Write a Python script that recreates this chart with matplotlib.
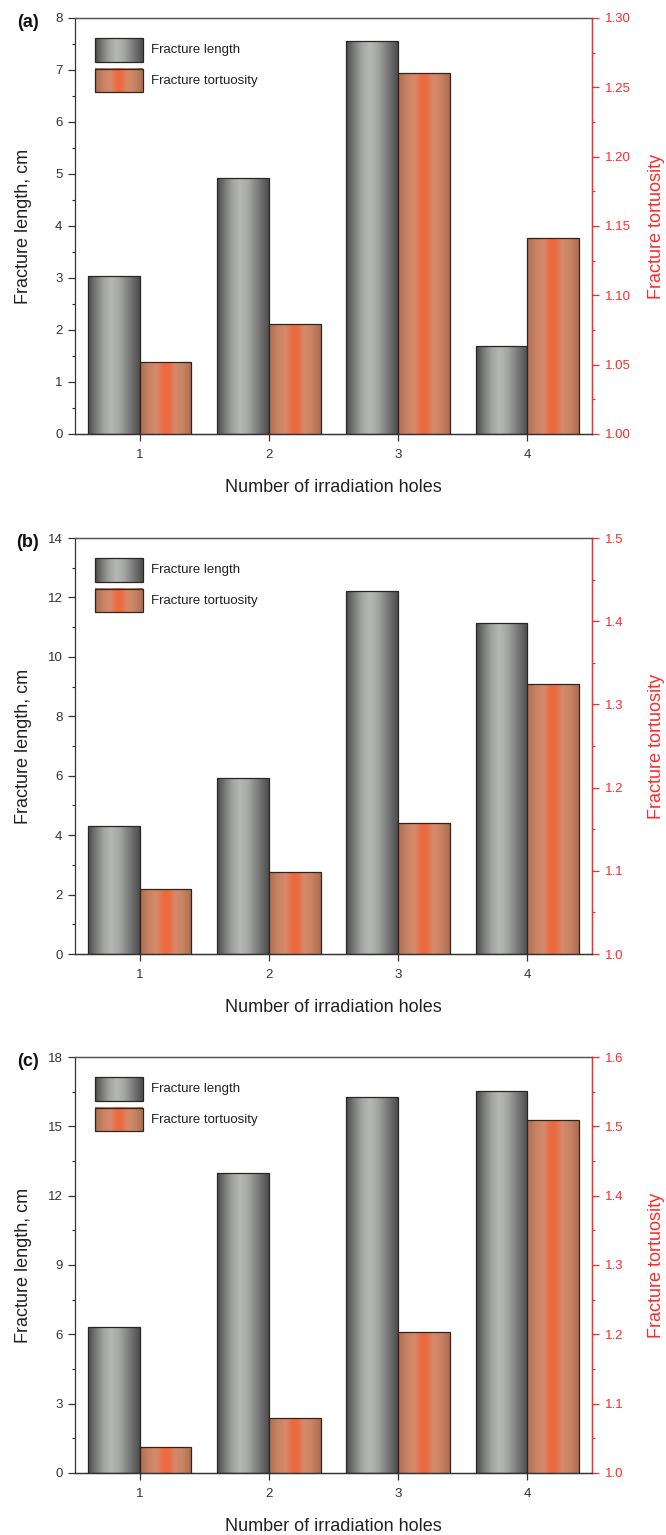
import numpy as np
import matplotlib
matplotlib.use("Agg")
import matplotlib.pyplot as plt
from matplotlib.colors import LinearSegmentedColormap
from matplotlib.patches import Rectangle
from matplotlib.ticker import MultipleLocator, FormatStrFormatter

plt.rcParams['font.family'] = ['Liberation Sans', 'DejaVu Sans']

# ---- data -------------------------------------------------------------
holes = [1, 2, 3, 4]
length_a = [3.04, 4.92, 7.56, 1.70]
tort_a = [1.052, 1.079, 1.260, 1.141]
length_b = [4.30, 5.93, 12.23, 11.15]
tort_b = [1.078, 1.099, 1.157, 1.325]
length_c = [6.30, 12.97, 16.28, 16.52]
tort_c = [1.038, 1.079, 1.204, 1.509]
panel_tags = ['(a)', '(b)', '(c)']

# ---- styling ----------------------------------------------------------
RED = '#ff2a2a'
DARK = '#333333'
EDGE = '#2b2622'
grey_cmap = LinearSegmentedColormap.from_list('grey_bar', [
    (0.00, '#4a4a4a'), (0.12, '#707070'), (0.30, '#a2a4a2'),
    (0.45, '#b6b8b6'), (0.60, '#a6a8a6'), (0.80, '#7a7a7a'),
    (1.00, '#4c4c4c')])
orange_cmap = LinearSegmentedColormap.from_list('orange_bar', [
    (0.00, '#b06c4e'), (0.18, '#c98466'), (0.32, '#d58a6a'),
    (0.44, '#ea6e46'), (0.50, '#f0673d'), (0.56, '#ea6e46'),
    (0.68, '#d58a6a'), (0.82, '#c98466'), (1.00, '#b06c4e')])
GRAD = np.linspace(0, 1, 256).reshape(1, -1)


def shade_bars(ax, bars, cmap):
    for b in bars:
        x0, y0 = b.get_x(), b.get_y()
        w, h = b.get_width(), b.get_height()
        im = ax.imshow(GRAD, cmap=cmap, aspect='auto', interpolation='bilinear',
                       extent=[x0, x0 + w, y0, y0 + h], zorder=2)
        im.set_clip_path(b)


def legend_entry(ax, y0, y1, cmap, label):
    x0, x1 = 0.0387, 0.131
    ax.imshow(GRAD, cmap=cmap, aspect='auto', interpolation='bilinear',
              extent=[x0, x1, y0, y1], transform=ax.transAxes, zorder=5)
    ax.add_patch(Rectangle((x0, y0), x1 - x0, y1 - y0, transform=ax.transAxes,
                           fill=False, edgecolor=EDGE, lw=0.9, zorder=6))
    ax.text(0.1464, (y0 + y1) / 2, label, transform=ax.transAxes, fontsize=9.5,
            color='#222222', va='center', ha='left', zorder=6)


panels = [
    (length_a, tort_a, (0, 8), 1, 0.5, (1.0, 1.3), 0.05, 0.025, '%.2f'),
    (length_b, tort_b, (0, 14), 2, 1, (1.0, 1.5), 0.1, 0.05, '%.1f'),
    (length_c, tort_c, (0, 18), 3, 1.5, (1.0, 1.6), 0.1, 0.05, '%.1f'),
]
bottoms = [0.7173, 0.3785, 0.0404]

fig = plt.figure(figsize=(6.66, 15.35), dpi=100)
x = np.array(holes, dtype=float)
w = 0.4

for (length, tort, ylim, maj, mnr, rlim, rmaj, rmnr, rfmt), bot, tag in zip(
        panels, bottoms, panel_tags):
    ax = fig.add_axes([0.1126, bot, 0.7763, 0.2710])
    ax2 = ax.twinx()

    gb = ax.bar(x - w / 2, length, width=w, facecolor='none', edgecolor=EDGE,
                linewidth=0.9, zorder=3)
    shade_bars(ax, gb, grey_cmap)
    base = rlim[0]
    ob = ax2.bar(x + w / 2, np.array(tort) - base, bottom=base, width=w,
                 facecolor='none', edgecolor=EDGE, linewidth=0.9, zorder=3)
    shade_bars(ax2, ob, orange_cmap)

    ax.set_xlim(0.5, 4.5)
    ax.set_ylim(*ylim)
    ax2.set_ylim(*rlim)
    ax.set_xticks(holes)
    ax.yaxis.set_major_locator(MultipleLocator(maj))
    ax.yaxis.set_minor_locator(MultipleLocator(mnr))
    ax2.yaxis.set_major_locator(MultipleLocator(rmaj))
    ax2.yaxis.set_minor_locator(MultipleLocator(rmnr))
    ax2.yaxis.set_major_formatter(FormatStrFormatter(rfmt))

    for a in (ax, ax2):
        for s in a.spines.values():
            s.set_linewidth(0.9)
            s.set_color(DARK)
        a.spines['top'].set_color('#555555')
    ax2.spines['right'].set_color(RED)
    ax2.spines['left'].set_visible(False)

    ax.tick_params(axis='both', which='major', direction='out', length=5,
                   width=0.9, color=DARK, labelsize=9.5, labelcolor=DARK, pad=4)
    ax.tick_params(axis='y', which='minor', direction='out', length=2.5,
                   width=0.8, color=DARK)
    ax.tick_params(axis='x', which='major', pad=6)
    ax2.tick_params(axis='y', which='major', direction='out', length=5,
                    width=0.9, color=RED, labelsize=9.5, labelcolor=RED, pad=4)
    ax2.tick_params(axis='y', which='minor', direction='out', length=2.5,
                    width=0.8, color=RED)

    ax.set_ylabel('Fracture length, cm', fontsize=13, color='#222222')
    ax.yaxis.set_label_coords(-0.083, 0.5)
    ax2.set_ylabel('Fracture tortuosity', fontsize=13, color=RED)
    ax2.yaxis.set_label_coords(1.108, 0.5)
    ax.set_xlabel('Number of irradiation holes', fontsize=13, color='#222222')
    ax.xaxis.set_label_coords(0.5, -0.108)

    ax.text(-0.091, 0.99, tag, transform=ax.transAxes, fontsize=13,
            fontweight='bold', ha='center', va='center', color='#111111')

    legend_entry(ax2, 0.895, 0.951, grey_cmap, 'Fracture length')
    legend_entry(ax2, 0.821, 0.877, orange_cmap, 'Fracture tortuosity')
    ax2.set_xlim(0.5, 4.5)
    ax2.set_ylim(*rlim)

fig.savefig('out.png', dpi=100, facecolor='white')
